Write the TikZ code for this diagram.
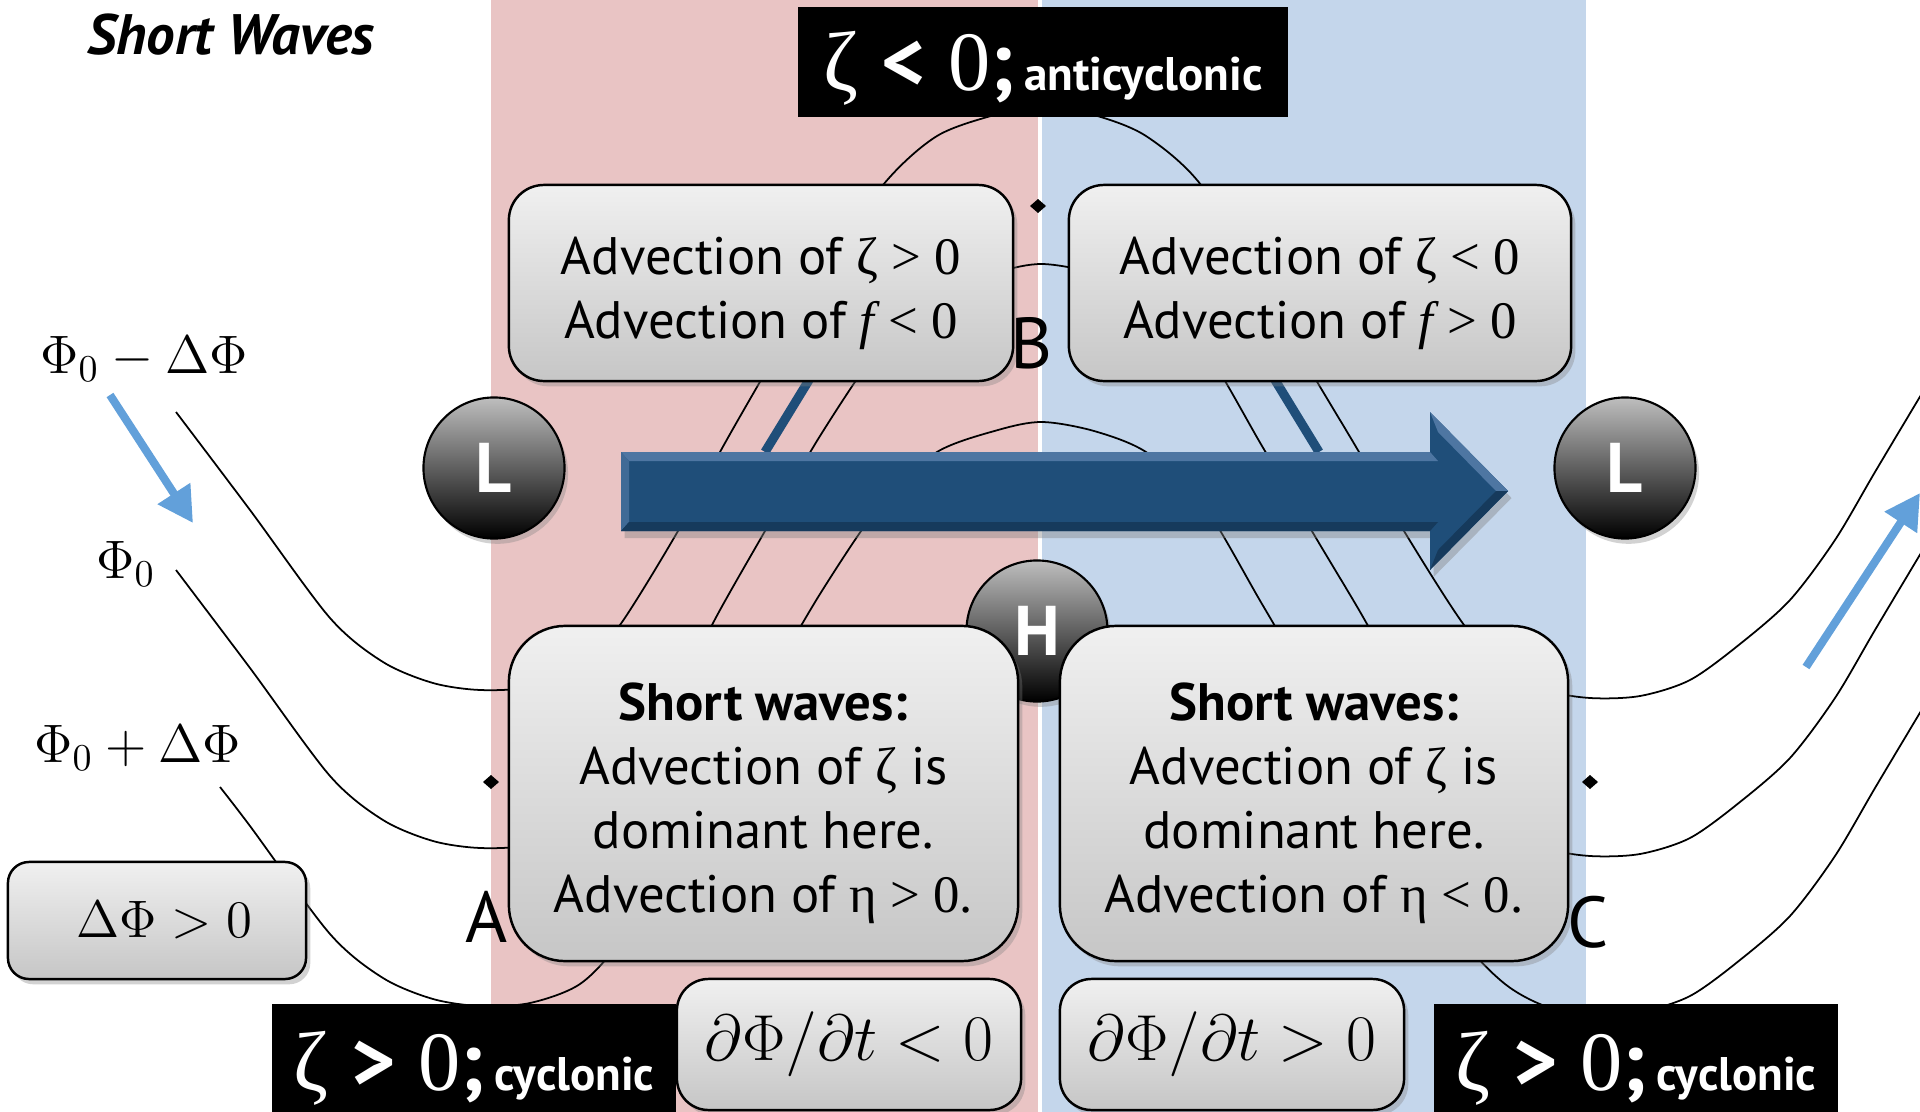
\documentclass[tikz,border=0pt]{standalone}
\usepackage{fix-cm}
\usepackage[no-math]{fontspec}
\setmainfont{PT Sans}
\newfontfamily\grk{Liberation Serif}
\usetikzlibrary{shadows,arrows.meta}
\definecolor{bandred}{RGB}{233,196,196}
\definecolor{bandblue}{RGB}{196,214,235}
\definecolor{flowblue}{RGB}{31,78,121}
\definecolor{flowlight}{RGB}{78,118,162}
\definecolor{flowdark}{RGB}{22,58,92}
\definecolor{skyblue}{RGB}{98,160,218}
\definecolor{paneltop}{RGB}{240,240,240}
\definecolor{panelbot}{RGB}{198,198,198}
\definecolor{balltop}{RGB}{190,190,190}
\newcommand{\vort}[2]{{\fontsize{24}{26}\selectfont{\grk ζ}~\textbf{#1}~{\grk 0}\textbf{;}}~{\fontsize{13.4}{16}\selectfont\bfseries #2}}
\newcommand{\topline}{\rule{0pt}{16.4pt}}

\begin{document}
\begin{tikzpicture}[x=0.01cm,y=-0.01cm,
  contour/.style={line width=0.5pt},
  flowline/.style={flowblue,line width=2.6pt},
  skyarrow/.style={skyblue,line width=2.3pt,-{Triangle[length=10pt,width=10.5pt]}},
  panel/.style={draw,line width=0.7pt,top color=paneltop,bottom color=panelbot,
    drop shadow={shadow xshift=1.2pt,shadow yshift=-1.5pt,opacity=0.35},
    align=center,inner sep=0pt,font=\fontsize{15}{18.2}\selectfont},
  lowhigh/.style={circle,draw,line width=0.6pt,minimum size=1.41cm,inner sep=0pt,
    top color=balltop,bottom color=black,text=white,
    drop shadow={shadow xshift=1pt,shadow yshift=-1.5pt,opacity=0.35},
    font=\fontsize{20}{20}\selectfont\bfseries},
  tag/.style={fill=black,text=white,inner sep=0pt,text height=20pt,text depth=4pt},
  letter/.style={font=\fontsize{20.5}{21}\selectfont},
  phi/.style={anchor=base west,font=\fontsize{15.4}{16}\selectfont}]
  \clip (0,0) rectangle (1920,1112);
  \fill[white] (0,0) rectangle (1920,1112);
  \fill[bandred] (491,0) rectangle (1038,1112);
  \fill[bandblue] (1042,0) rectangle (1586,1112);

  \foreach \dy/\sx/\sy in {0/176/412,158/176/412,316/220/471}
    \draw[contour,shift={(0,\dy)}] plot[smooth,tension=0.5] coordinates {(\sx,\sy) (250,510) (330,618) (383,662) (433,683) (480,690) (530,687) (580,668) (620,625) (678,531) (720,452) (761,380) (820,278) (883,185) (937,136) (998,114) (1042,106) (1094,115) (1146,136) (1201,185) (1262,288) (1316,380) (1359,452) (1404,531) (1464,625) (1505,668) (1545,690) (1590,698) (1640,696) (1690,680) (1740,644) (1790,600) (1835,540) (1875,472) (1918,400) (1965,322)};
  \draw[flowline] (809,380) -- (765,452);
  \draw[flowline] (1275,380) -- (1319,452);

  \fill[flowblue,drop shadow={shadow xshift=1pt,shadow yshift=-2pt,opacity=0.4}] (621,452) -- (1430,452) -- (1430,412) -- (1508,491) -- (1430,570) -- (1430,531) -- (621,531) -- cycle;
  \fill[flowlight] (621,452) -- (1430,452) -- (1438,461) -- (629,461) -- cycle;
  \fill[flowlight!70!flowblue] (621,452) -- (629,461) -- (629,522) -- (621,531) -- cycle;
  \fill[flowdark] (629,522) -- (1438,522) -- (1430,531) -- (621,531) -- cycle;
  \fill[flowlight] (1430,412) -- (1508,491) -- (1496,491) -- (1438,432) -- cycle;
  \fill[flowdark] (1508,491) -- (1430,570) -- (1438,550) -- (1496,491) -- cycle;

  \draw[skyarrow] (110,395) -- (193,523);
  \draw[skyarrow] (1806,667) -- (1920,493);

  \node[lowhigh] (lowW) at (494,468) {L};
  \node[lowhigh] (lowE) at (1625,468) {L};
  \node[lowhigh] (high) at (1037,631) {H};

  \node[panel,rounded corners=10pt,minimum width=5.04cm,minimum height=1.96cm] (advW) at (761,283)
    {\topline Advection of {\grk ζ > 0}\\Advection of {\grk\itshape f} {\grk < 0}};
  \node[panel,rounded corners=10pt,minimum width=5.02cm,minimum height=1.96cm] (advE) at (1320,283)
    {\topline Advection of {\grk ζ < 0}\\Advection of {\grk\itshape f} {\grk > 0}};
  \node[panel,rounded corners=16pt,minimum width=5.09cm,minimum height=3.35cm] (shortW) at (763.5,793.5)
    {\topline\textbf{Short waves:}\\Advection of {\grk ζ} is\\dominant here.\\Advection of {\grk η > 0.}};
  \node[panel,rounded corners=16pt,minimum width=5.08cm,minimum height=3.35cm] (shortE) at (1314,793.5)
    {\topline\textbf{Short waves:}\\Advection of {\grk ζ} is\\dominant here.\\Advection of {\grk η < 0.}};
  \node[panel,rounded corners=9pt,minimum width=3.44cm,minimum height=1.31cm,font=\fontsize{18.5}{20}\selectfont] (tendW) at (849,1044.5)
    {$\partial\Phi/\partial t < 0$};
  \node[panel,rounded corners=9pt,minimum width=3.44cm,minimum height=1.31cm,font=\fontsize{18.5}{20}\selectfont] (tendE) at (1232,1044.5)
    {$\partial\Phi/\partial t > 0$};
  \node[panel,rounded corners=6pt,minimum width=2.98cm,minimum height=1.17cm,font=\fontsize{15}{16}\selectfont] (dphi) at (157,920.5)
    {\kern4pt$\Delta\Phi > 0$};

  \node[tag,minimum width=4.9cm,minimum height=1.1cm] (antiN) at (1043,62) {\vort{<}{anticyclonic}};
  \node[tag,minimum width=4.04cm,minimum height=1.16cm] (cycW) at (474,1062) {\vort{>}{cyclonic}};
  \node[tag,minimum width=4.04cm,minimum height=1.16cm] (cycE) at (1636,1062) {\vort{>}{cyclonic}};

  \node[letter] (ptA) at (487,917) {A};
  \node[letter] (ptB) at (1032,343) {B};
  \node[letter] (ptC) at (1588,922) {C};
  \foreach \p in {(491,782),(1038,206),(1590,782)}
    \fill \p +(-8,0) -- +(0,-7) -- +(8,0) -- +(0,7) -- cycle;

  \node[phi] (phiM) at (28,373) {$\Phi_0-\Delta\Phi$};
  \node[phi] (phiZ) at (84,578) {$\Phi_0$};
  \node[phi] (phiP) at (22,762) {$\Phi_0+\Delta\Phi$};
  \node[font=\fontsize{16.2}{17}\selectfont\bfseries\itshape] (title) at (231,35) {Short Waves};
\end{tikzpicture}
\end{document}
